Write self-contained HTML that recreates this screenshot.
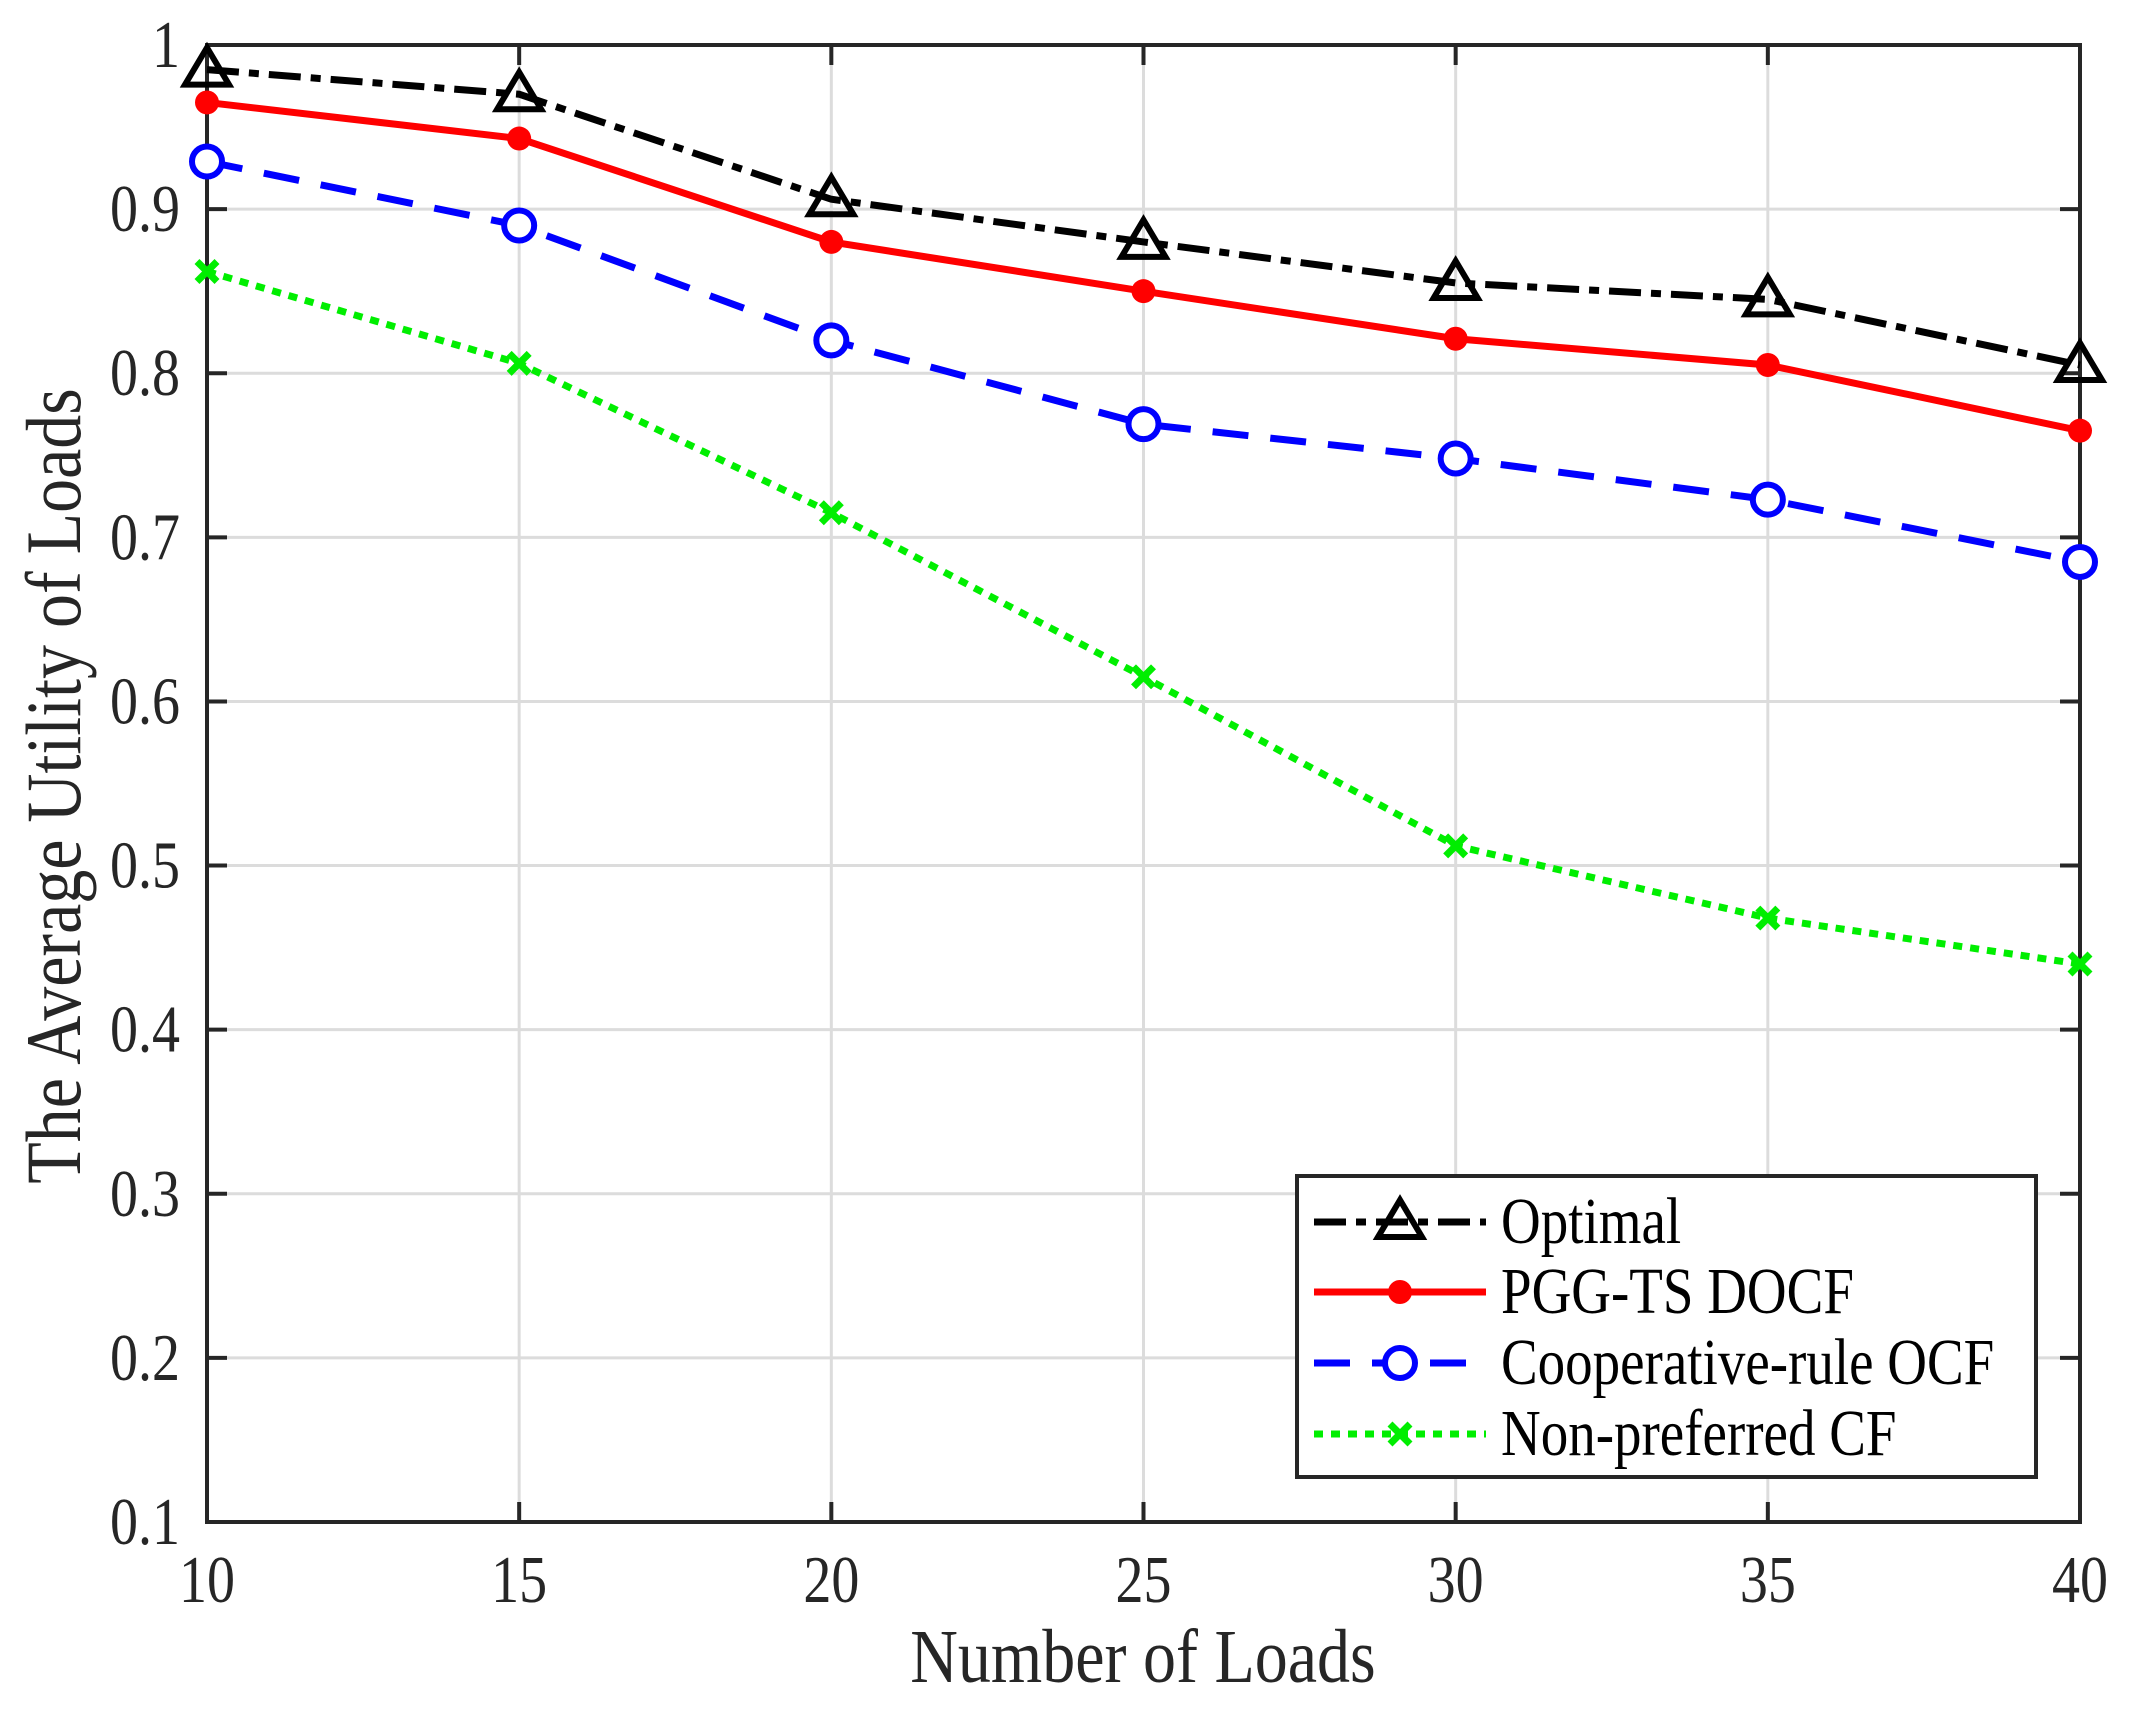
<!DOCTYPE html>
<html><head><meta charset="utf-8"><style>
html,body{margin:0;padding:0;background:#fff;}
svg{display:block;font-family:"Liberation Serif",serif;}
</style></head><body>
<svg id="chart" width="2131" height="1710" viewBox="0 0 2131 1710">
<g id="grid"></g>
<g id="axes"></g>
<g id="series"></g>
<text transform="translate(1143,1682) scale(1,1.15)" font-size="66" text-anchor="middle" fill="#262626">Number of Loads</text>
<text transform="translate(80,786) rotate(-90) scale(1,1.15)" font-size="68" text-anchor="middle" fill="#262626">The Average Utility of Loads</text>
<g id="legend"></g>
</svg>
<script>
const categories = [10, 15, 20, 25, 30, 35, 40];
const optimal = [0.985, 0.970, 0.906, 0.880, 0.855, 0.845, 0.805];
const pggts = [0.965, 0.943, 0.880, 0.850, 0.821, 0.805, 0.765];
const coop = [0.929, 0.890, 0.820, 0.769, 0.748, 0.723, 0.685];
const nonpref = [0.862, 0.806, 0.715, 0.615, 0.512, 0.468, 0.440];
const xTicks = [10, 15, 20, 25, 30, 35, 40];
const yTicks = [0.1, 0.2, 0.3, 0.4, 0.5, 0.6, 0.7, 0.8, 0.9, 1];
const yTickLabels = ["0.1","0.2","0.3","0.4","0.5","0.6","0.7","0.8","0.9","1"];
const seriesNames = ["Optimal", "PGG-TS DOCF", "Cooperative-rule OCF", "Non-preferred CF"];

const L=207,R=2080,T=45,B=1522;
const sx=v=>L+(v-10)/(40-10)*(R-L);
const sy=v=>B-(v-0.1)/(1-0.1)*(B-T);
const NS="http://www.w3.org/2000/svg";
function mk(tag,attrs,parent){const e=document.createElementNS(NS,tag);for(const k in attrs)e.setAttribute(k,attrs[k]);parent.appendChild(e);return e;}
const grid=document.getElementById('grid'),axes=document.getElementById('axes'),ser=document.getElementById('series'),leg=document.getElementById('legend');

xTicks.forEach((t,i)=>{
  const x=sx(t);
  const g=mk('line',{x1:x,x2:x,y1:T,y2:B,stroke:'#dcdcdc','stroke-width':3},grid);
  
  
  const a=mk('line',{x1:x,x2:x,y1:B,y2:B-20,stroke:'#262626','stroke-width':4},axes);
  
  
  const b=mk('line',{x1:x,x2:x,y1:T,y2:T+20,stroke:'#262626','stroke-width':4},axes);
  
  
  const l=mk('text',{transform:`translate(${x},1602) scale(1,1.2)`,'font-size':56,'text-anchor':'middle',fill:'#262626'},axes);
  l.textContent=String(t);
  
  
});
yTicks.forEach((t,i)=>{
  const y=sy(t);
  const g=mk('line',{x1:L,x2:R,y1:y,y2:y,stroke:'#dcdcdc','stroke-width':3},grid);
  
  
  const a=mk('line',{x1:L,x2:L+20,y1:y,y2:y,stroke:'#262626','stroke-width':4},axes);
  
  
  const b=mk('line',{x1:R,x2:R-20,y1:y,y2:y,stroke:'#262626','stroke-width':4},axes);
  
  
  const l=mk('text',{transform:`translate(180,${y+22}) scale(1,1.2)`,'font-size':56,'text-anchor':'end',fill:'#262626'},axes);
  l.textContent=yTickLabels[i];
  
  
});
const box=mk('rect',{x:L,y:T,width:R-L,height:B-T,fill:'none',stroke:'#262626','stroke-width':4},axes);



const styles=[
 {data:optimal,color:'#000',dash:'32 10 10 10',marker:'tri',name:'series-optimal'},
 {data:pggts,color:'#ff0000',dash:'',marker:'dot',name:'series-pgg-ts-docf'},
 {data:coop,color:'#0000ff',dash:'36 22',marker:'circ',name:'series-cooperative-rule-ocf'},
 {data:nonpref,color:'#00ee00',dash:'9 8',marker:'x',name:'series-non-preferred-cf'}
];
function marker(type,x,y,c,parent){
  let e;
  if(type==='tri') e=mk('polygon',{points:`${x},${y-22} ${x-22},${y+15} ${x+22},${y+15}`,fill:'none',stroke:c,'stroke-width':6},parent);
  else if(type==='dot') e=mk('circle',{cx:x,cy:y,r:12,fill:c},parent);
  else if(type==='circ') e=mk('circle',{cx:x,cy:y,r:15,fill:'#fff',stroke:c,'stroke-width':6},parent);
  else e=mk('path',{d:`M${x-10},${y-10}L${x+10},${y+10}M${x+10},${y-10}L${x-10},${y+10}`,stroke:c,'stroke-width':7},parent);
  return e;
}
styles.forEach(s=>{
  const g=mk('g',{},ser);
  
  
  const pts=s.data.map((v,i)=>sx(categories[i])+','+sy(v)).join(' ');
  const pl=mk('polyline',{points:pts,fill:'none',stroke:s.color,'stroke-width':7,'stroke-dasharray':s.dash},g);
  
  
  s.data.forEach((v,i)=>{
    const m=marker(s.marker,sx(categories[i]),sy(v),s.color,g);
    
    
  });
});

const lb=mk('rect',{x:1297,y:1176,width:739,height:301,fill:'#fff',stroke:'#262626','stroke-width':4},leg);


const rowsY=[1222,1292,1363,1434];
styles.forEach((s,i)=>{
  const g=mk('g',{},leg);
  
  
  const y=rowsY[i];
  mk('line',{x1:1314,x2:1486,y1:y,y2:y,stroke:s.color,'stroke-width':7,'stroke-dasharray':s.dash},g);
  marker(s.marker,1400,y,s.color,g);
  const t=mk('text',{transform:`translate(1501,${y+21}) scale(1,1.2)`,'font-size':55,fill:'#000',textLength:0},g);
  t.removeAttribute('textLength');
  t.textContent=seriesNames[i];
  
  
});
</script>
</body></html>
